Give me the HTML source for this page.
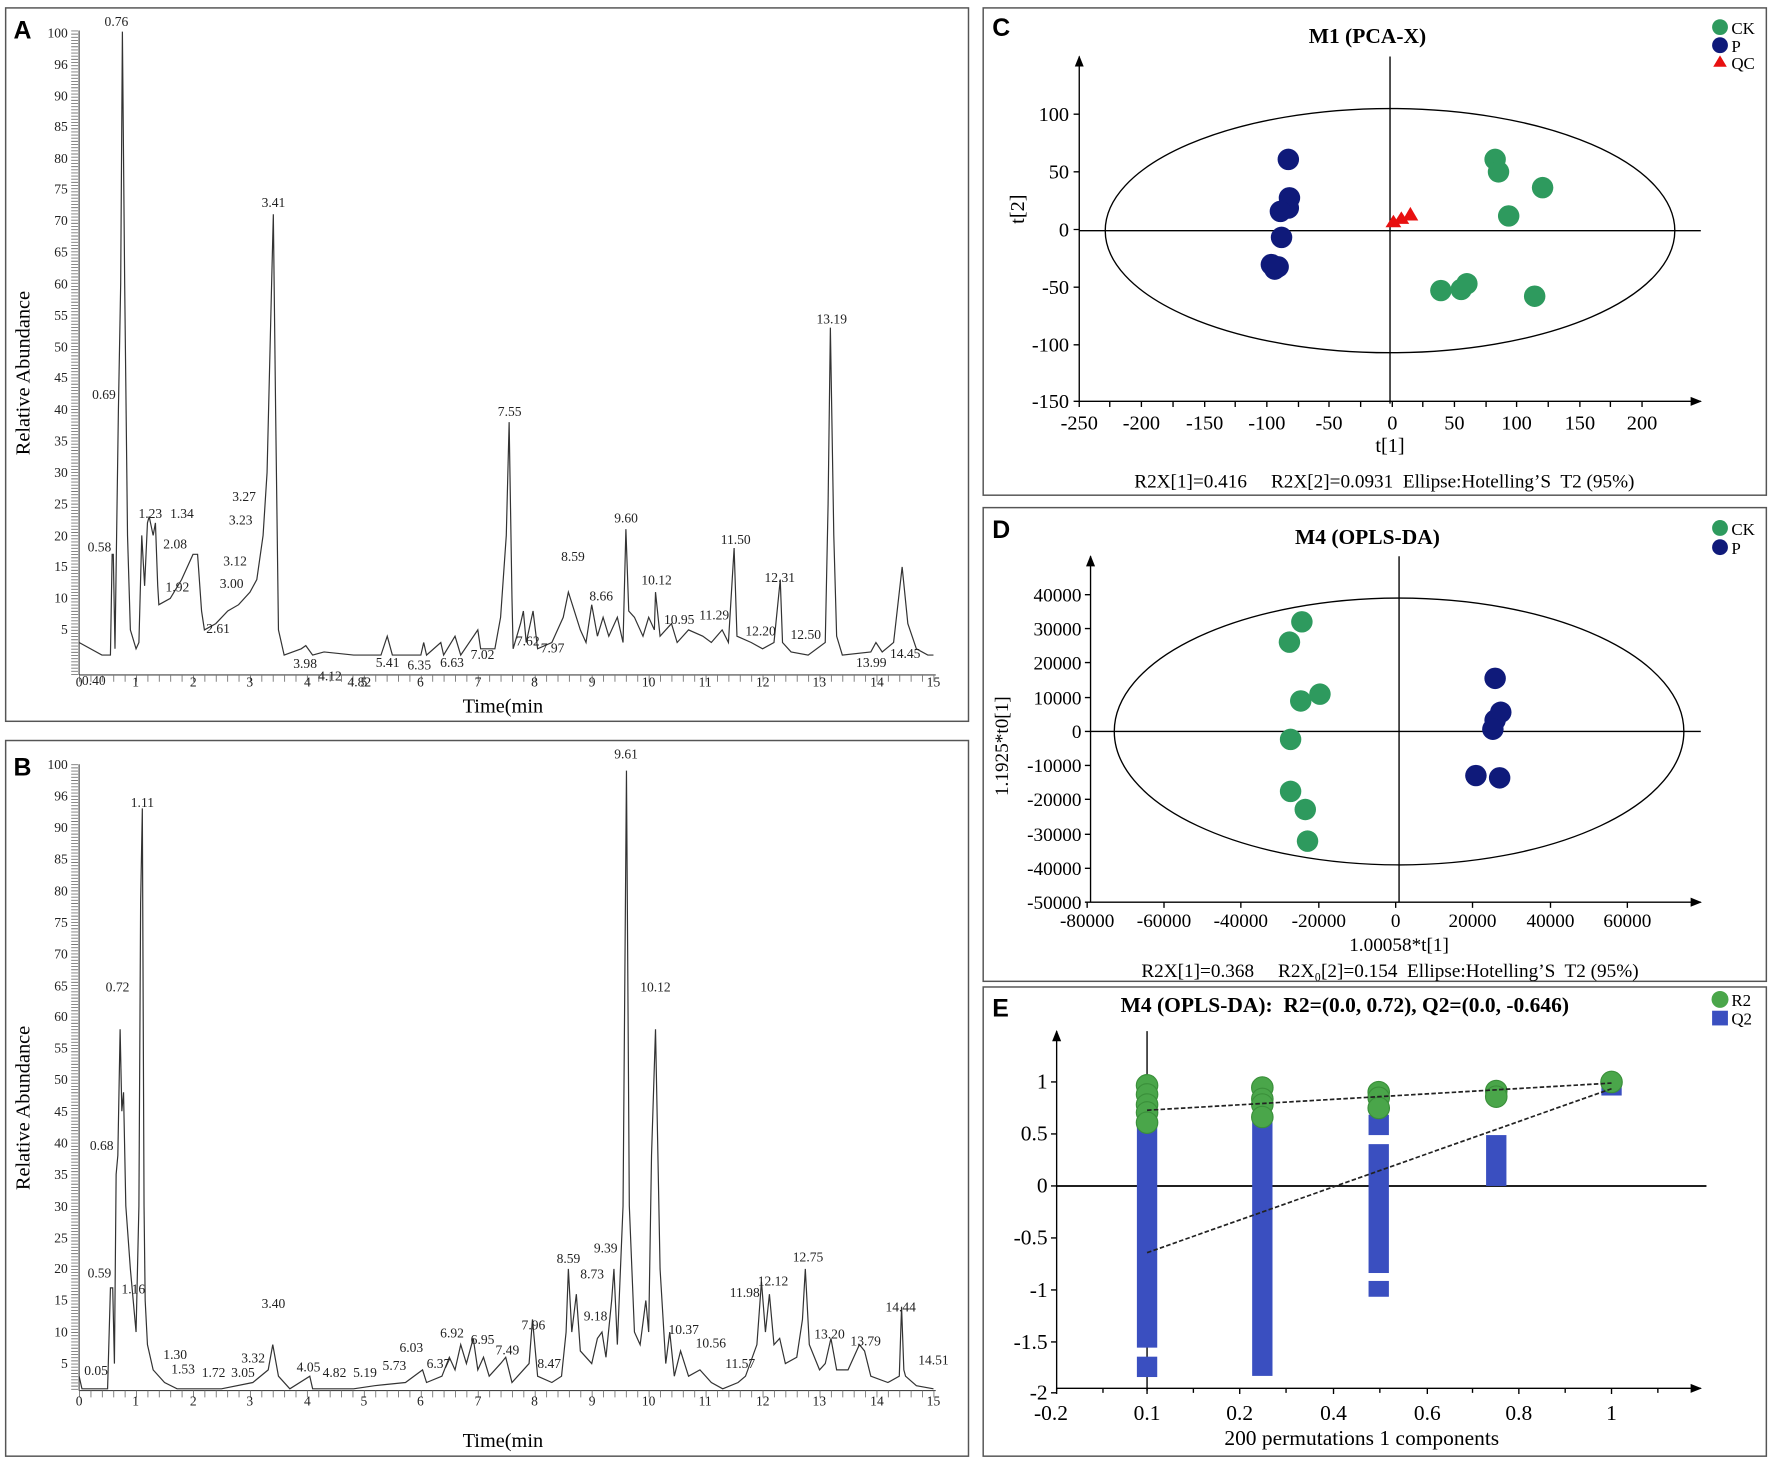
<!DOCTYPE html>
<html><head><meta charset="utf-8"><style>html,body{margin:0;padding:0;background:#fff}svg{display:block}</style></head>
<body>
<svg width="1772" height="1472" viewBox="0 0 1568 1302" preserveAspectRatio="none" xmlns="http://www.w3.org/2000/svg" font-family="'Liberation Serif',serif">
<defs>
<marker id="ar" viewBox="0 0 10 10" refX="9" refY="5" markerWidth="10" markerHeight="10" orient="auto" markerUnits="userSpaceOnUse"><path d="M0,1 L10,5 L0,9 z" fill="#000"/></marker>
</defs>
<rect width="1568" height="1302" fill="#fff"/>
<g fill="none" stroke="#555" stroke-width="1.3">
<rect x="5" y="7" width="852" height="631"/>
<rect x="5" y="655" width="852" height="633"/>
<rect x="870" y="7" width="693" height="431"/>
<rect x="870" y="449" width="693" height="419"/>
<rect x="870" y="873" width="693" height="415"/>
</g>
<g font-family="'Liberation Sans',sans-serif" font-weight="bold" font-size="22">
<text x="12" y="34">A</text><text x="12" y="686">B</text><text x="878" y="32">C</text><text x="878" y="476">D</text><text x="878" y="899">E</text>
</g>

<!-- ===== Panel A ===== -->
<g stroke="#444" stroke-width="1">
<line x1="70" y1="27" x2="70" y2="597"/>
<line x1="70" y1="597" x2="828" y2="597"/>
<line x1="66" y1="27" x2="66" y2="597" stroke-width="6" stroke-dasharray="0.8 1.99" stroke="#777"/>
<line x1="70" y1="600" x2="828" y2="600" stroke-width="6" stroke-dasharray="0.8 9.28" stroke="#777"/>
</g>
<g font-size="12" text-anchor="end" fill="#222">
<text x="60" y="33">100</text><text x="60" y="61">96</text><text x="60" y="89">90</text><text x="60" y="116">85</text><text x="60" y="144">80</text><text x="60" y="171">75</text><text x="60" y="199">70</text><text x="60" y="227">65</text><text x="60" y="255">60</text><text x="60" y="283">55</text><text x="60" y="311">50</text><text x="60" y="338">45</text><text x="60" y="366">40</text><text x="60" y="394">35</text><text x="60" y="422">30</text><text x="60" y="450">25</text><text x="60" y="478">20</text><text x="60" y="505">15</text><text x="60" y="533">10</text><text x="60" y="561">5</text>
</g>
<g font-size="12" text-anchor="middle" fill="#222">
<text x="70" y="607">0</text><text x="120" y="607">1</text><text x="171" y="607">2</text><text x="221" y="607">3</text><text x="272" y="607">4</text><text x="322" y="607">5</text><text x="372" y="607">6</text><text x="423" y="607">7</text><text x="473" y="607">8</text><text x="524" y="607">9</text><text x="574" y="607">10</text><text x="624" y="607">11</text><text x="675" y="607">12</text><text x="725" y="607">13</text><text x="776" y="607">14</text><text x="826" y="607">15</text>
</g>
<text x="445" y="630" font-size="18" text-anchor="middle">Time(min</text>
<text transform="translate(26,330) rotate(-90)" font-size="18" text-anchor="middle">Relative Abundance</text>
<g transform="translate(70,585) scale(50.4,-5.57)">
<path vector-effect="non-scaling-stroke" fill="none" stroke="#333" stroke-width="1.2" d="M0,3 L0.4,1 L0.55,1 L0.58,17 L0.6,17 L0.63,2 L0.69,40 L0.73,60 L0.76,100 L0.8,60 L0.85,20 L0.9,5 L1,2 L1.05,3 L1.1,20 L1.15,12 L1.2,22 L1.23,23 L1.3,20 L1.34,22 L1.38,12 L1.4,9 L1.6,10 L1.8,13 L2,17 L2.08,17 L2.15,8 L2.2,5 L2.4,6 L2.61,8 L2.8,9 L3,11 L3.12,13 L3.23,20 L3.3,30 L3.38,60 L3.41,71 L3.45,40 L3.5,5 L3.6,1 L3.9,2 L3.98,2.5 L4.1,1 L4.3,1.5 L4.82,1 L5.3,1 L5.41,4 L5.5,1 L6,1 L6.05,3 L6.1,1 L6.35,3 L6.4,1 L6.6,4 L6.7,1 L7,5 L7.05,2 L7.3,2 L7.4,7 L7.5,20 L7.55,38 L7.6,10 L7.62,2 L7.75,6 L7.8,8 L7.85,3 L7.97,8 L8.05,2 L8.3,3 L8.4,5 L8.5,7 L8.59,11 L8.66,9 L8.8,5 L8.9,3 L9,9 L9.1,4 L9.2,7 L9.3,4 L9.45,7 L9.55,3 L9.6,21 L9.65,8 L9.75,7 L9.9,4 L10,7 L10.1,5 L10.12,11 L10.2,4 L10.4,6 L10.5,3 L10.7,5 L10.95,4 L11.1,3 L11.29,5 L11.4,3 L11.5,18 L11.55,4 L11.8,3 L12,2 L12.2,3 L12.31,13 L12.35,3 L12.5,1.5 L12.8,1 L13.1,3 L13.15,25 L13.19,53 L13.25,20 L13.3,4 L13.4,1 L13.9,1.5 L13.99,3 L14.1,1.5 L14.3,3 L14.45,15 L14.55,6 L14.7,2 L14.9,1 L15,1"/>
</g>
<g font-size="12" text-anchor="middle" fill="#222">
<text x="103" y="23">0.76</text><text x="92" y="353">0.69</text><text x="88" y="488">0.58</text><text x="242" y="183">3.41</text><text x="133" y="458">1.23</text><text x="161" y="458">1.34</text><text x="155" y="485">2.08</text><text x="157" y="523">1.92</text><text x="193" y="560">2.61</text><text x="216" y="443">3.27</text><text x="213" y="464">3.23</text><text x="208" y="500">3.12</text><text x="205" y="520">3.00</text><text x="270" y="591">3.98</text><text x="292" y="602">4.12</text><text x="318" y="607">4.82</text><text x="343" y="590">5.41</text><text x="371" y="592">6.35</text><text x="400" y="590">6.63</text><text x="427" y="583">7.02</text><text x="451" y="368">7.55</text><text x="467" y="571">7.62</text><text x="489" y="577">7.97</text><text x="507" y="496">8.59</text><text x="532" y="531">8.66</text><text x="554" y="462">9.60</text><text x="581" y="517">10.12</text><text x="601" y="552">10.95</text><text x="632" y="548">11.29</text><text x="651" y="481">11.50</text><text x="690" y="515">12.31</text><text x="673" y="562">12.20</text><text x="713" y="565">12.50</text><text x="736" y="286">13.19</text><text x="771" y="590">13.99</text><text x="801" y="582">14.45</text><text x="83" y="606">0.40</text>
</g>

<!-- ===== Panel B ===== -->
<g stroke="#444" stroke-width="1">
<line x1="70" y1="676" x2="70" y2="1230"/>
<line x1="70" y1="1230" x2="828" y2="1230"/>
<line x1="66" y1="676" x2="66" y2="1230" stroke-width="6" stroke-dasharray="0.8 1.99" stroke="#777"/>
<line x1="70" y1="1233" x2="828" y2="1233" stroke-width="6" stroke-dasharray="0.8 9.28" stroke="#777"/>
</g>
<g font-size="12" text-anchor="end" fill="#222">
<text x="60" y="680">100</text><text x="60" y="708">96</text><text x="60" y="736">90</text><text x="60" y="764">85</text><text x="60" y="792">80</text><text x="60" y="820">75</text><text x="60" y="848">70</text><text x="60" y="876">65</text><text x="60" y="903">60</text><text x="60" y="931">55</text><text x="60" y="959">50</text><text x="60" y="987">45</text><text x="60" y="1015">40</text><text x="60" y="1043">35</text><text x="60" y="1071">30</text><text x="60" y="1099">25</text><text x="60" y="1126">20</text><text x="60" y="1154">15</text><text x="60" y="1182">10</text><text x="60" y="1210">5</text>
</g>
<g font-size="12" text-anchor="middle" fill="#222">
<text x="70" y="1243">0</text><text x="120" y="1243">1</text><text x="171" y="1243">2</text><text x="221" y="1243">3</text><text x="272" y="1243">4</text><text x="322" y="1243">5</text><text x="372" y="1243">6</text><text x="423" y="1243">7</text><text x="473" y="1243">8</text><text x="524" y="1243">9</text><text x="574" y="1243">10</text><text x="624" y="1243">11</text><text x="675" y="1243">12</text><text x="725" y="1243">13</text><text x="776" y="1243">14</text><text x="826" y="1243">15</text>
</g>
<text x="445" y="1280" font-size="18" text-anchor="middle">Time(min</text>
<text transform="translate(26,980) rotate(-90)" font-size="18" text-anchor="middle">Relative Abundance</text>
<g transform="translate(70,1234) scale(50.4,-5.58)">
<path vector-effect="non-scaling-stroke" fill="none" stroke="#333" stroke-width="1.2" d="M0,3 L0.05,1 L0.5,1 L0.55,17 L0.59,17 L0.62,5 L0.65,35 L0.68,38 L0.72,58 L0.75,45 L0.78,48 L0.82,30 L0.9,20 L1,10 L1.05,30 L1.08,78 L1.11,93 L1.14,30 L1.16,15 L1.2,8 L1.3,4 L1.5,2 L1.72,1 L2.5,1 L3.05,2 L3.32,4 L3.4,8 L3.5,3 L3.7,1 L4.05,3 L4.1,1 L4.82,1 L5.19,1.5 L5.73,2 L6.03,4 L6.1,2 L6.37,3 L6.5,6 L6.6,4 L6.7,8 L6.8,5 L6.92,9 L7,4 L7.1,6 L7.2,3 L7.4,5 L7.49,6 L7.6,2 L7.9,5 L7.96,12 L8.05,3 L8.3,2 L8.47,3 L8.55,10 L8.59,20 L8.65,10 L8.73,16 L8.8,7 L9,5 L9.1,9 L9.18,10 L9.25,6 L9.35,15 L9.39,20 L9.45,8 L9.55,30 L9.61,99 L9.66,30 L9.75,10 L9.85,8 L9.95,15 L10,10 L10.05,38 L10.12,58 L10.2,20 L10.3,5 L10.37,10 L10.45,3 L10.56,7 L10.7,3 L10.9,4 L11.1,2 L11.3,1 L11.57,2 L11.7,3 L11.9,8 L11.98,18 L12.05,10 L12.12,16 L12.2,8 L12.3,9 L12.4,5 L12.6,6 L12.7,12 L12.75,20 L12.82,8 L13,4 L13.1,5 L13.2,9 L13.3,4 L13.5,4 L13.7,8 L13.79,7 L13.9,3 L14.2,2 L14.4,3 L14.44,14 L14.48,4 L14.51,3 L14.7,1.5 L15,1"/>
</g>
<g font-size="12" text-anchor="middle" fill="#222">
<text x="126" y="714">1.11</text><text x="104" y="877">0.72</text><text x="90" y="1017">0.68</text><text x="88" y="1130">0.59</text><text x="118" y="1144">1.16</text><text x="155" y="1202">1.30</text><text x="162" y="1215">1.53</text><text x="189" y="1218">1.72</text><text x="215" y="1218">3.05</text><text x="224" y="1205">3.32</text><text x="242" y="1157">3.40</text><text x="273" y="1213">4.05</text><text x="296" y="1218">4.82</text><text x="323" y="1218">5.19</text><text x="349" y="1212">5.73</text><text x="364" y="1196">6.03</text><text x="388" y="1210">6.37</text><text x="400" y="1183">6.92</text><text x="427" y="1189">6.95</text><text x="449" y="1198">7.49</text><text x="472" y="1176">7.96</text><text x="486" y="1210">8.47</text><text x="503" y="1117">8.59</text><text x="524" y="1131">8.73</text><text x="527" y="1168">9.18</text><text x="536" y="1108">9.39</text><text x="554" y="671">9.61</text><text x="580" y="877">10.12</text><text x="605" y="1180">10.37</text><text x="629" y="1192">10.56</text><text x="655" y="1210">11.57</text><text x="659" y="1147">11.98</text><text x="684" y="1137">12.12</text><text x="715" y="1116">12.75</text><text x="734" y="1184">13.20</text><text x="766" y="1190">13.79</text><text x="797" y="1160">14.44</text><text x="826" y="1207">14.51</text><text x="85" y="1216">0.05</text>
</g>

<!-- ===== Panel C ===== -->
<text x="1210" y="38" font-size="19" font-weight="bold" text-anchor="middle">M1 (PCA-X)</text>
<g stroke="#000" stroke-width="1.2" fill="none">
<line x1="955" y1="355" x2="1505" y2="355" marker-end="url(#ar)"/>
<line x1="955" y1="355" x2="955" y2="50" marker-end="url(#ar)"/>
<line x1="1230" y1="50" x2="1230" y2="357"/>
<line x1="955" y1="204" x2="1505" y2="204"/>
<ellipse cx="1230" cy="204" rx="252" ry="108"/>
<path d="M955,355 v5 M982,355 v5 M1010,355 v5 M1038,355 v5 M1066,355 v5 M1093,355 v5 M1121,355 v5 M1149,355 v5 M1176,355 v5 M1204,355 v5 M1232,355 v5 M1259,355 v5 M1287,355 v5 M1315,355 v5 M1342,355 v5 M1370,355 v5 M1398,355 v5 M1425,355 v5 M1453,355 v5 M950,101 h5 M950,152 h5 M950,203 h5 M950,254 h5 M950,305 h5 M950,355 h5"/>
</g>
<g font-size="18" text-anchor="middle">
<text x="955" y="380">-250</text><text x="1010" y="380">-200</text><text x="1066" y="380">-150</text><text x="1121" y="380">-100</text><text x="1176" y="380">-50</text><text x="1232" y="380">0</text><text x="1287" y="380">50</text><text x="1342" y="380">100</text><text x="1398" y="380">150</text><text x="1453" y="380">200</text>
</g>
<g font-size="18" text-anchor="end">
<text x="946" y="107">100</text><text x="946" y="158">50</text><text x="946" y="209">0</text><text x="946" y="260">-50</text><text x="946" y="311">-100</text><text x="946" y="361">-150</text>
</g>
<text transform="translate(906,185) rotate(-90)" font-size="18" text-anchor="middle">t[2]</text>
<text x="1230" y="400" font-size="18" text-anchor="middle">t[1]</text>
<text x="1225" y="431" font-size="17" text-anchor="middle" xml:space="preserve">R2X[1]=0.416     R2X[2]=0.0931  Ellipse:Hotelling’S  T2 (95%)</text>
<g fill="#0f1a7a">
<circle cx="1140" cy="141" r="9.5"/><circle cx="1141" cy="175" r="9.5"/><circle cx="1140" cy="184" r="9.5"/><circle cx="1133" cy="187" r="9.5"/><circle cx="1134" cy="210" r="9.5"/><circle cx="1125" cy="234" r="9.5"/><circle cx="1128" cy="238" r="9.5"/><circle cx="1131" cy="236" r="9.5"/>
</g>
<g fill="#2e9a5e">
<circle cx="1323" cy="141" r="9.5"/><circle cx="1326" cy="152" r="9.5"/><circle cx="1365" cy="166" r="9.5"/><circle cx="1335" cy="191" r="9.5"/><circle cx="1275" cy="257" r="9.5"/><circle cx="1298" cy="251" r="9.5"/><circle cx="1293" cy="256" r="9.5"/><circle cx="1358" cy="262" r="9.5"/>
</g>
<g fill="#e81010">
<path d="M1233,190 l7,11 h-14 z"/><path d="M1240,187 l7,11 h-14 z"/><path d="M1248,183 l7,12 h-14 z"/>
</g>
<circle cx="1522" cy="24" r="7" fill="#2e9a5e"/><text x="1532" y="30" font-size="15">CK</text>
<circle cx="1522" cy="40" r="7" fill="#0f1a7a"/><text x="1532" y="46" font-size="15">P</text>
<path d="M1522,49 l6,10 h-12 z" fill="#e81010"/><text x="1532" y="61" font-size="15">QC</text>

<!-- ===== Panel D ===== -->
<text x="1210" y="481" font-size="19" font-weight="bold" text-anchor="middle">M4 (OPLS-DA)</text>
<g stroke="#000" stroke-width="1.2" fill="none">
<line x1="965" y1="798" x2="1505" y2="798" marker-end="url(#ar)"/>
<line x1="965" y1="798" x2="965" y2="492" marker-end="url(#ar)"/>
<line x1="1238" y1="492" x2="1238" y2="798"/>
<line x1="965" y1="647" x2="1505" y2="647"/>
<ellipse cx="1238" cy="647" rx="252" ry="118"/>
<path d="M962,798 v5 M1030,798 v5 M1098,798 v5 M1167,798 v5 M1235,798 v5 M1303,798 v5 M1372,798 v5 M1440,798 v5 M960,526 h5 M960,556 h5 M960,586 h5 M960,617 h5 M960,647 h5 M960,677 h5 M960,707 h5 M960,738 h5 M960,768 h5 M960,798 h5"/>
</g>
<g font-size="17" text-anchor="middle">
<text x="962" y="820">-80000</text><text x="1030" y="820">-60000</text><text x="1098" y="820">-40000</text><text x="1167" y="820">-20000</text><text x="1235" y="820">0</text><text x="1303" y="820">20000</text><text x="1372" y="820">40000</text><text x="1440" y="820">60000</text>
</g>
<g font-size="17" text-anchor="end">
<text x="957" y="532">40000</text><text x="957" y="562">30000</text><text x="957" y="592">20000</text><text x="957" y="623">10000</text><text x="957" y="653">0</text><text x="957" y="683">-10000</text><text x="957" y="713">-20000</text><text x="957" y="744">-30000</text><text x="957" y="774">-40000</text><text x="957" y="804">-50000</text>
</g>
<text transform="translate(892,660) rotate(-90)" font-size="17" text-anchor="middle">1.1925*t0[1]</text>
<text x="1238" y="841" font-size="17" text-anchor="middle">1.00058*t[1]</text>
<text x="1230" y="864" font-size="17" text-anchor="middle" xml:space="preserve">R2X[1]=0.368     R2X₀[2]=0.154  Ellipse:Hotelling’S  T2 (95%)</text>
<g fill="#2e9a5e">
<circle cx="1152" cy="550" r="9.5"/><circle cx="1141" cy="568" r="9.5"/><circle cx="1168" cy="614" r="9.5"/><circle cx="1151" cy="620" r="9.5"/><circle cx="1142" cy="654" r="9.5"/><circle cx="1142" cy="700" r="9.5"/><circle cx="1155" cy="716" r="9.5"/><circle cx="1157" cy="744" r="9.5"/>
</g>
<g fill="#0f1a7a">
<circle cx="1323" cy="600" r="9.5"/><circle cx="1328" cy="630" r="9.5"/><circle cx="1323" cy="637" r="9.5"/><circle cx="1321" cy="645" r="9.5"/><circle cx="1306" cy="686" r="9.5"/><circle cx="1327" cy="688" r="9.5"/>
</g>
<circle cx="1522" cy="467" r="7" fill="#2e9a5e"/><text x="1532" y="473" font-size="15">CK</text>
<circle cx="1522" cy="484" r="7" fill="#0f1a7a"/><text x="1532" y="490" font-size="15">P</text>

<!-- ===== Panel E ===== -->
<text x="1190" y="895" font-size="19" font-weight="bold" text-anchor="middle" xml:space="preserve">M4 (OPLS-DA):  R2=(0.0, 0.72), Q2=(0.0, -0.646)</text>
<g stroke="#000" stroke-width="1.2" fill="none">
<line x1="935" y1="1228" x2="1505" y2="1228" marker-end="url(#ar)"/>
<line x1="935" y1="1230" x2="935" y2="912" marker-end="url(#ar)"/>
<line x1="1015" y1="912" x2="1015" y2="1230"/>
<line x1="935" y1="1049" x2="1510" y2="1049" stroke-width="1.5"/>
<path d="M935,1228 v5 M976,1228 v4 M1015,1228 v5 M1056,1228 v4 M1097,1228 v5 M1138,1228 v4 M1180,1228 v5 M1221,1228 v4 M1263,1228 v5 M1303,1228 v4 M1344,1228 v5 M1385,1228 v4 M1426,1228 v5 M1467,1228 v4 M930,957 h5 M930,1003 h5 M930,1049 h5 M930,1095 h5 M930,1141 h5 M930,1187 h5 M930,1232 h5"/>
</g>
<g font-size="19" text-anchor="middle">
<text x="930" y="1256">-0.2</text><text x="1015" y="1256">0.1</text><text x="1097" y="1256">0.2</text><text x="1180" y="1256">0.4</text><text x="1263" y="1256">0.6</text><text x="1344" y="1256">0.8</text><text x="1426" y="1256">1</text>
</g>
<g font-size="19" text-anchor="end">
<text x="927" y="963">1</text><text x="927" y="1009">0.5</text><text x="927" y="1055">0</text><text x="927" y="1101">-0.5</text><text x="927" y="1147">-1</text><text x="927" y="1193">-1.5</text><text x="927" y="1238">-2</text>
</g>
<text x="1205" y="1278" font-size="19" text-anchor="middle">200 permutations 1 components</text>
<g fill="#3a4fc0">
<rect x="1006" y="994" width="18" height="198"/><rect x="1006" y="1200" width="18" height="18"/>
<rect x="1108" y="989" width="18" height="228"/>
<rect x="1211" y="986" width="18" height="18"/><rect x="1211" y="1012" width="18" height="114"/><rect x="1211" y="1133" width="18" height="14"/>
<rect x="1315" y="1004" width="18" height="45"/>
<rect x="1417" y="956" width="18" height="13"/>
</g>
<g fill="#4aa64a" stroke="#3a8f3a" stroke-width="1">
<circle cx="1015" cy="960" r="9.5"/><circle cx="1015" cy="968" r="9.5"/><circle cx="1015" cy="977" r="9.5"/><circle cx="1015" cy="984" r="9.5"/><circle cx="1015" cy="993" r="9.5"/>
<circle cx="1117" cy="962" r="9.5"/><circle cx="1117" cy="972" r="9.5"/><circle cx="1117" cy="977" r="9.5"/><circle cx="1117" cy="988" r="9.5"/>
<circle cx="1220" cy="966" r="9.5"/><circle cx="1220" cy="971" r="9.5"/><circle cx="1220" cy="980" r="9.5"/>
<circle cx="1324" cy="965" r="9.5"/><circle cx="1324" cy="970" r="9.5"/>
<circle cx="1426" cy="957" r="9.5"/>
</g>
<g stroke="#222" stroke-width="1.5" stroke-dasharray="4 2" fill="none">
<line x1="1015" y1="982" x2="1426" y2="958"/>
<line x1="1015" y1="1108" x2="1426" y2="963"/>
</g>
<circle cx="1522" cy="884" r="7.5" fill="#4aa64a"/><text x="1532" y="890" font-size="15">R2</text>
<rect x="1515" y="894" width="14" height="13" fill="#3a4fc0"/><text x="1532" y="906" font-size="15">Q2</text>
</svg>
</body></html>
